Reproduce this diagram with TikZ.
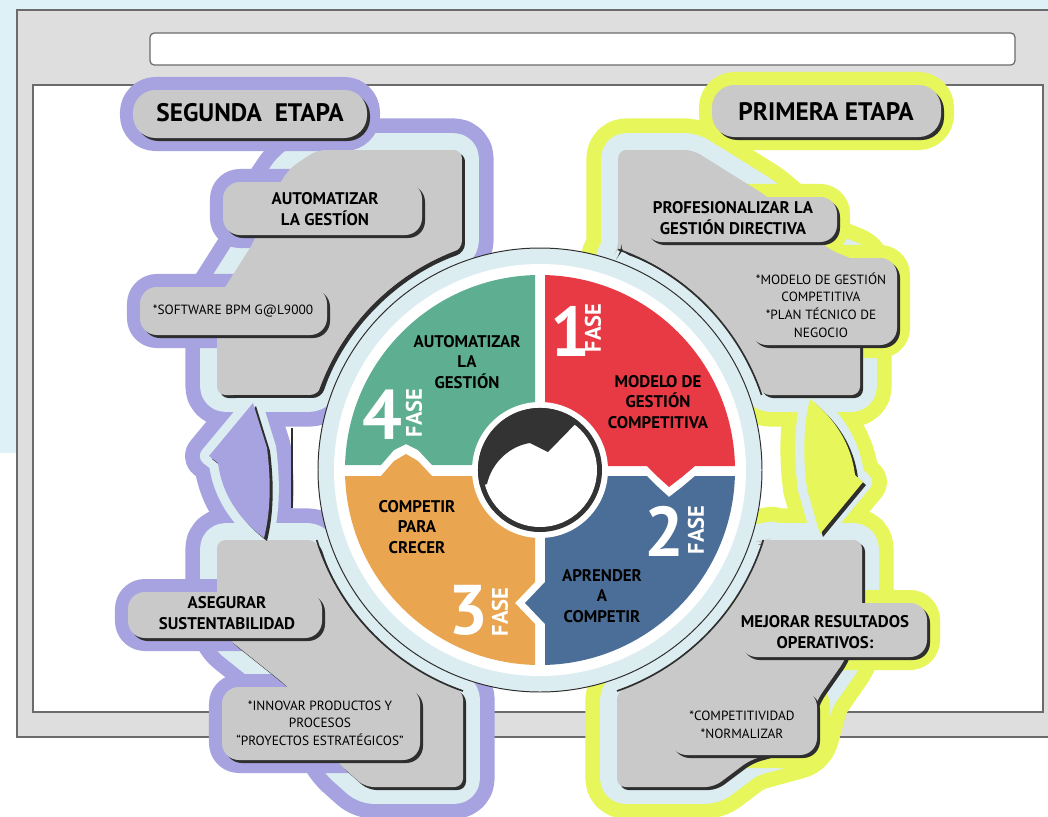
\documentclass[tikz,border=0pt]{standalone}
\usepackage{fontspec}
\setmainfont{PT Sans}

\definecolor{bgcyan}{HTML}{DDF1F6}
\definecolor{framegray}{HTML}{DEDEDE}
\definecolor{frameline}{HTML}{6B6B6B}
\definecolor{etapaviolet}{HTML}{A7A3E1}
\definecolor{etapalime}{HTML}{E7F65A}
\definecolor{bandblue}{HTML}{DCEDF2}
\definecolor{lobegray}{HTML}{C9C9C9}
\definecolor{shadowgray}{HTML}{2E2E2E}
\definecolor{fasegreen}{HTML}{5EAE91}
\definecolor{fasered}{HTML}{E73A44}
\definecolor{faseblue}{HTML}{4A6E97}
\definecolor{faseorange}{HTML}{E9A54F}
\definecolor{hubdark}{HTML}{333333}

% shapes of the two stages (pixel units)
\newcommand{\lobeUL}{(317,150) -- (462,150) -- (461.9,249.4) arc[start angle=-109.5, end angle=-161.3, radius=234] -- (217,395) -- (217,300) -- (255,240) -- (262,210) -- (290,168) -- cycle}
\newcommand{\lobeLL}{(217,540) -- (316.7,540) arc[start angle=162.6, end angle=109.2, radius=234] -- (463,787) -- (365,787) -- (338,763) -- (300,700) -- (287,686) -- (227,638) -- (217,610) -- cycle}
\newcommand{\lobeUR}{(618.1,249.4) -- (618,150) -- (693,150) -- (765,195) -- (830,250) -- (860,262) -- (860,395) -- (761.6,395) arc[start angle=-18.7, end angle=-70.5, radius=234] -- cycle}
\newcommand{\lobeLR}{(763.3,540) -- (862,540) -- (862,612) -- (845,660) -- (817,700) -- (805,745) -- (750,760) -- (714,787) -- (617,787) -- (617,691) arc[start angle=70.8, end angle=17.4, radius=234] -- cycle}
\newcommand{\arrowL}{(253,403) -- (209,456) -- (218,463) .. controls (222,495) and (240,520) .. (264,538) .. controls (271,510) and (271,480) .. (267,448) -- cycle}
\newcommand{\arrowR}{(820,534) -- (863,482) -- (855,475) .. controls (851,442) and (833,417) .. (810,399) .. controls (803,427) and (803,457) .. (807,489) -- cycle}
% pills
\newcommand{\pillSeg}{(133,90) rectangle (367,138)}
\newcommand{\pillPri}{(712,85) rectangle (941,137)}
\newcommand{\pillAut}{(223,182) rectangle (422,235)}
\newcommand{\pillSoft}{(140,287) rectangle (327,335)}
\newcommand{\pillAse}{(128,592) rectangle (322,638)}
\newcommand{\pillInn}{(222,687) rectangle (420,760)}
\newcommand{\pillPro}{(645,197) rectangle (837,242)}
\newcommand{\pillMod}{(750,258) rectangle (897,345)}
\newcommand{\pillMej}{(740,603) rectangle (927,657)}
\newcommand{\pillCom}{(670,690) rectangle (817,755)}

\begin{document}
\begin{tikzpicture}[x=0.025cm, y=-0.025cm,
  outerband/.style={draw=#1, line width=45pt, line join=round},
  innerband/.style={draw=bandblue, line width=24pt, line join=round},
  arrowouter/.style={draw=#1, line width=34pt, line join=round},
  arrowinner/.style={draw=bandblue, line width=13pt, line join=round},
  pillband/.style={draw=#1, line width=18.5pt, line join=round},
  dropshade/.style={fill=shadowgray, shift={(3,3)}},
  lobefill/.style={fill=lobegray},
  edge/.style={draw=shadowgray, line width=1.2pt},
  etapatxt/.style={font=\bfseries\fontsize{18}{20}\selectfont},
  labeltxt/.style={font=\bfseries\fontsize{12}{14.5}\selectfont, align=center},
  notetxt/.style={font=\fontsize{9.5}{12.5}\selectfont, align=center},
  fasenum/.style={font=\bfseries\fontsize{50}{50}\selectfont, text=white, inner sep=0pt},
  fasetag/.style={font=\bfseries\fontsize{16}{16}\selectfont, text=white, rotate=90, inner sep=0pt}]

\useasboundingbox (0,0) rectangle (1048,817);

% window frame
\fill[bgcyan] (0,0) rectangle (1048,453);
\filldraw[fill=framegray, draw=frameline, line width=0.9pt] (17,10) rectangle (1070,737);
\filldraw[fill=white, draw=frameline, line width=0.9pt] (33,85) rectangle (1043,712);
\filldraw[fill=white, draw=frameline, line width=0.9pt, rounded corners=3pt] (150,33) rectangle (1015,65);

% coloured outer bands
\draw[outerband=etapaviolet, rounded corners=6pt] \lobeUL \lobeLL;
\draw[outerband=etapalime, rounded corners=6pt] \lobeUR \lobeLR;
\draw[arrowouter=etapaviolet] \arrowL;
\draw[arrowouter=etapalime] \arrowR;

% light blue bands
\draw[innerband, rounded corners=6pt] \lobeUL \lobeLL \lobeUR \lobeLR;
\draw[arrowinner] \arrowL \arrowR;

% pill borders
\draw[pillband=etapaviolet, rounded corners=16pt] \pillSeg;
\draw[pillband=etapalime, rounded corners=16pt] \pillPri;
\draw[pillband=etapaviolet, rounded corners=12pt] \pillAut \pillSoft \pillAse \pillInn;
\draw[pillband=etapalime, rounded corners=12pt] \pillPro \pillMod \pillMej \pillCom;

% gray lobes
\fill[dropshade, rounded corners=6pt] \lobeUL \lobeLL \lobeUR \lobeLR;
\fill[lobefill, rounded corners=6pt] \lobeUL \lobeLL \lobeUR \lobeLR;
\draw[edge] (461.9,249.4) arc[start angle=-109.5, end angle=-161.3, radius=234];
\draw[edge] (316.7,540) arc[start angle=162.6, end angle=109.2, radius=234];
\draw[edge] (761.6,395) arc[start angle=-18.7, end angle=-70.5, radius=234];
\draw[edge] (617,691) arc[start angle=70.8, end angle=17.4, radius=234];

% cycle arrows
\fill[dropshade] \arrowL \arrowR;
\fill[etapaviolet] \arrowL;
\fill[etapalime] \arrowR;
\draw[edge] (292,428) -- (292,508);

% wheel
\coordinate (c) at (540,470);
\fill[bandblue] (c) circle[radius=222];
\draw[shadowgray, line width=0.7pt] (c) circle[radius=222];
\fill[white] (c) circle[radius=206];
\begin{scope}
\clip (c) circle[radius=195];
\fill[fasegreen] (330,260) -- (535,260) -- (535,465) -- (432,465) -- (418,450) -- (406,444) -- (394,450) -- (381,465) -- (330,465) -- cycle;
\fill[faseorange] (330,476) -- (381,476) -- (394,461) -- (406,454) -- (418,461) -- (432,476) -- (535,476) -- (535,582) -- (515,603) -- (535,624) -- (535,680) -- (330,680) -- cycle;
\fill[faseblue] (545,476) -- (647,476) -- (658,487) -- (669,497) -- (682,487) -- (695,476) -- (750,476) -- (750,680) -- (545,680) -- (545,624) -- (525,603) -- (545,582) -- cycle;
\fill[fasered] (545,260) -- (750,260) -- (750,466) -- (695,466) -- (682,477) -- (669,487) -- (658,477) -- (647,466) -- (545,466) -- cycle;
\end{scope}

% hub
\fill[white] (c) circle[radius=68];
\fill[hubdark] (c) circle[radius=62];
\fill[white] (c) circle[radius=57];
\fill[hubdark] (480.1,486) arc[start angle=165, end angle=308, radius=62] -- (548,452) -- (530,443) .. controls (510,446) and (492,462) .. (487,484) -- cycle;

% phases
\node[fasenum] (n1) at (570,331) {1};
\node[fasetag] (f1) at (593,328) {FASE};
\node[fasenum] (n2) at (664,531) {2};
\node[fasetag] (f2) at (696,530) {FASE};
\node[fasenum] (n3) at (468,610) {3};
\node[fasetag] (f3) at (500,612) {FASE};
\node[fasenum] (n4) at (382,415) {4};
\node[fasetag] (f4) at (414,413) {FASE};
\node[labeltxt] (t4) at (467,362) {AUTOMATIZAR\\LA\\GESTIÓN};
\node[labeltxt] (t1) at (658,402) {MODELO DE\\GESTIÓN\\COMPETITIVA};
\node[labeltxt] (t2) at (602,596) {APRENDER\\A\\COMPETIR};
\node[labeltxt] (t3) at (417,527) {COMPETIR\\PARA\\CRECER};

% pills
\fill[dropshade, rounded corners=16pt] \pillSeg \pillPri;
\fill[lobefill, rounded corners=16pt] \pillSeg \pillPri;
\fill[dropshade, rounded corners=12pt] \pillAut \pillSoft \pillAse \pillInn \pillPro \pillMod \pillMej \pillCom;
\fill[lobefill, rounded corners=12pt] \pillAut \pillSoft \pillAse \pillInn \pillPro \pillMod \pillMej \pillCom;

\node[etapatxt] (segunda) at (250,113) {SEGUNDA~ ETAPA};
\node[etapatxt] (primera) at (826,112) {PRIMERA ETAPA};
\node[labeltxt] (automatizar) at (325,209) {AUTOMATIZAR\\LA GESTÍON};
\node[notetxt] (software) at (233,311) {*SOFTWARE BPM G@L9000};
\node[labeltxt] (asegurar) at (227,613) {ASEGURAR\\SUSTENTABILIDAD};
\node[notetxt] (innovar) at (320,723) {*INNOVAR PRODUCTOS Y\\PROCESOS\\“PROYECTOS ESTRATÉGICOS”};
\node[labeltxt] (profesionalizar) at (733,218) {PROFESIONALIZAR LA\\GESTIÓN DIRECTIVA};
\node[notetxt] (modelo) at (821,305) {*MODELO DE GESTIÓN\\COMPETITIVA\\*PLAN TÉCNICO DE\\NEGOCIO};
\node[labeltxt] (mejorar) at (825,632) {MEJORAR RESULTADOS\\OPERATIVOS:};
\node[notetxt] (competitividad) at (742,725) {*COMPETITIVIDAD\\*NORMALIZAR};
\end{tikzpicture}
\end{document}
